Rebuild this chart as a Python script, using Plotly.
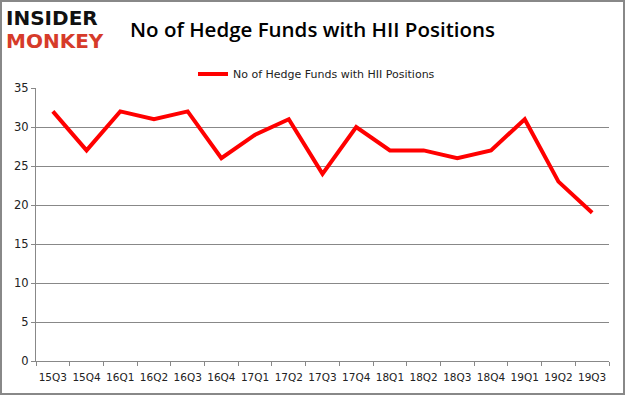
import plotly.graph_objects as go

quarters = ["15Q3", "15Q4", "16Q1", "16Q2", "16Q3", "16Q4", "17Q1", "17Q2", "17Q3",
            "17Q4", "18Q1", "18Q2", "18Q3", "18Q4", "19Q1", "19Q2", "19Q3"]
funds = [32, 27, 32, 31, 32, 26, 29, 31, 24, 30, 27, 27, 26, 27, 31, 23, 19]
series_name = "No of Hedge Funds with HII Positions"
y_ticks = [0, 5, 10, 15, 20, 25, 30, 35]

W, H = 625, 395
L, R, T, B = 36, 16, 88, 34
pw, ph = W - L - R, H - T - B

fig = go.Figure()
fig.add_trace(go.Scatter(x=quarters, y=funds, mode="lines", name=series_name,
                         line=dict(color="#ff0000", width=4)))

fig.update_layout(
    width=W, height=H,
    margin=dict(l=L, r=R, t=T, b=B, autoexpand=False),
    paper_bgcolor="white", plot_bgcolor="white",
    showlegend=True,
    legend=dict(orientation="h", x=0.5 - 6 / pw, xanchor="center", xref="paper",
                y=1 + (T - 74) / ph, yref="paper", yanchor="middle",
                font=dict(family="DejaVu Sans", size=11, color="#222"),
                itemwidth=30, bgcolor="rgba(0,0,0,0)"),
    title=dict(text="No of Hedge Funds with HII Positions", x=0.5, xanchor="center",
               xref="container", y=(H - 30) / H, yanchor="middle", automargin=False,
               font=dict(family="Open Sans", size=20.5, color="black", weight=600)),
    xaxis=dict(type="category", range=[-0.5, 16.5], tickson="boundaries",
               ticks="outside", ticklen=4, tickcolor="#888", tickangle=0,
               ticklabelstandoff=6,
               showline=True, linecolor="#888", linewidth=1, automargin=False,
               showgrid=False,
               tickfont=dict(family="DejaVu Sans", size=10.5, color="#222")),
    yaxis=dict(range=[0, 35], tickvals=y_ticks, ticks="outside", ticklen=4,
               tickcolor="#888", showline=True, linecolor="#888", linewidth=1,
               showgrid=True, gridcolor="#888", gridwidth=1, zeroline=False,
               automargin=False,
               tickfont=dict(family="DejaVu Sans", size=11.5, color="#222")),
)

# outer frame
fig.add_shape(type="rect", xref="paper", yref="paper",
              x0=(1 - L) / pw, x1=(W - 1 - L) / pw,
              y0=-(B - 1) / ph, y1=1 + (T - 1) / ph,
              line=dict(color="#888", width=2), fillcolor="rgba(0,0,0,0)", layer="below")

# logo
fig.add_annotation(text="<b>INSIDER</b>", xref="paper", yref="paper",
                   x=(4 - L) / pw, y=1 + (T - 18) / ph, xanchor="left", yanchor="middle",
                   showarrow=False, font=dict(family="DejaVu Sans", size=20, color="#111"))
fig.add_annotation(text="<b>MONKEY</b>", xref="paper", yref="paper",
                   x=(4 - L) / pw, y=1 + (T - 41) / ph, xanchor="left", yanchor="middle",
                   showarrow=False, font=dict(family="DejaVu Sans", size=20, color="#d63b2a"))

fig.write_html("out.html", config={"displayModeBar": False},
               post_script="document.body.style.margin='0';document.body.style.padding='0';")
